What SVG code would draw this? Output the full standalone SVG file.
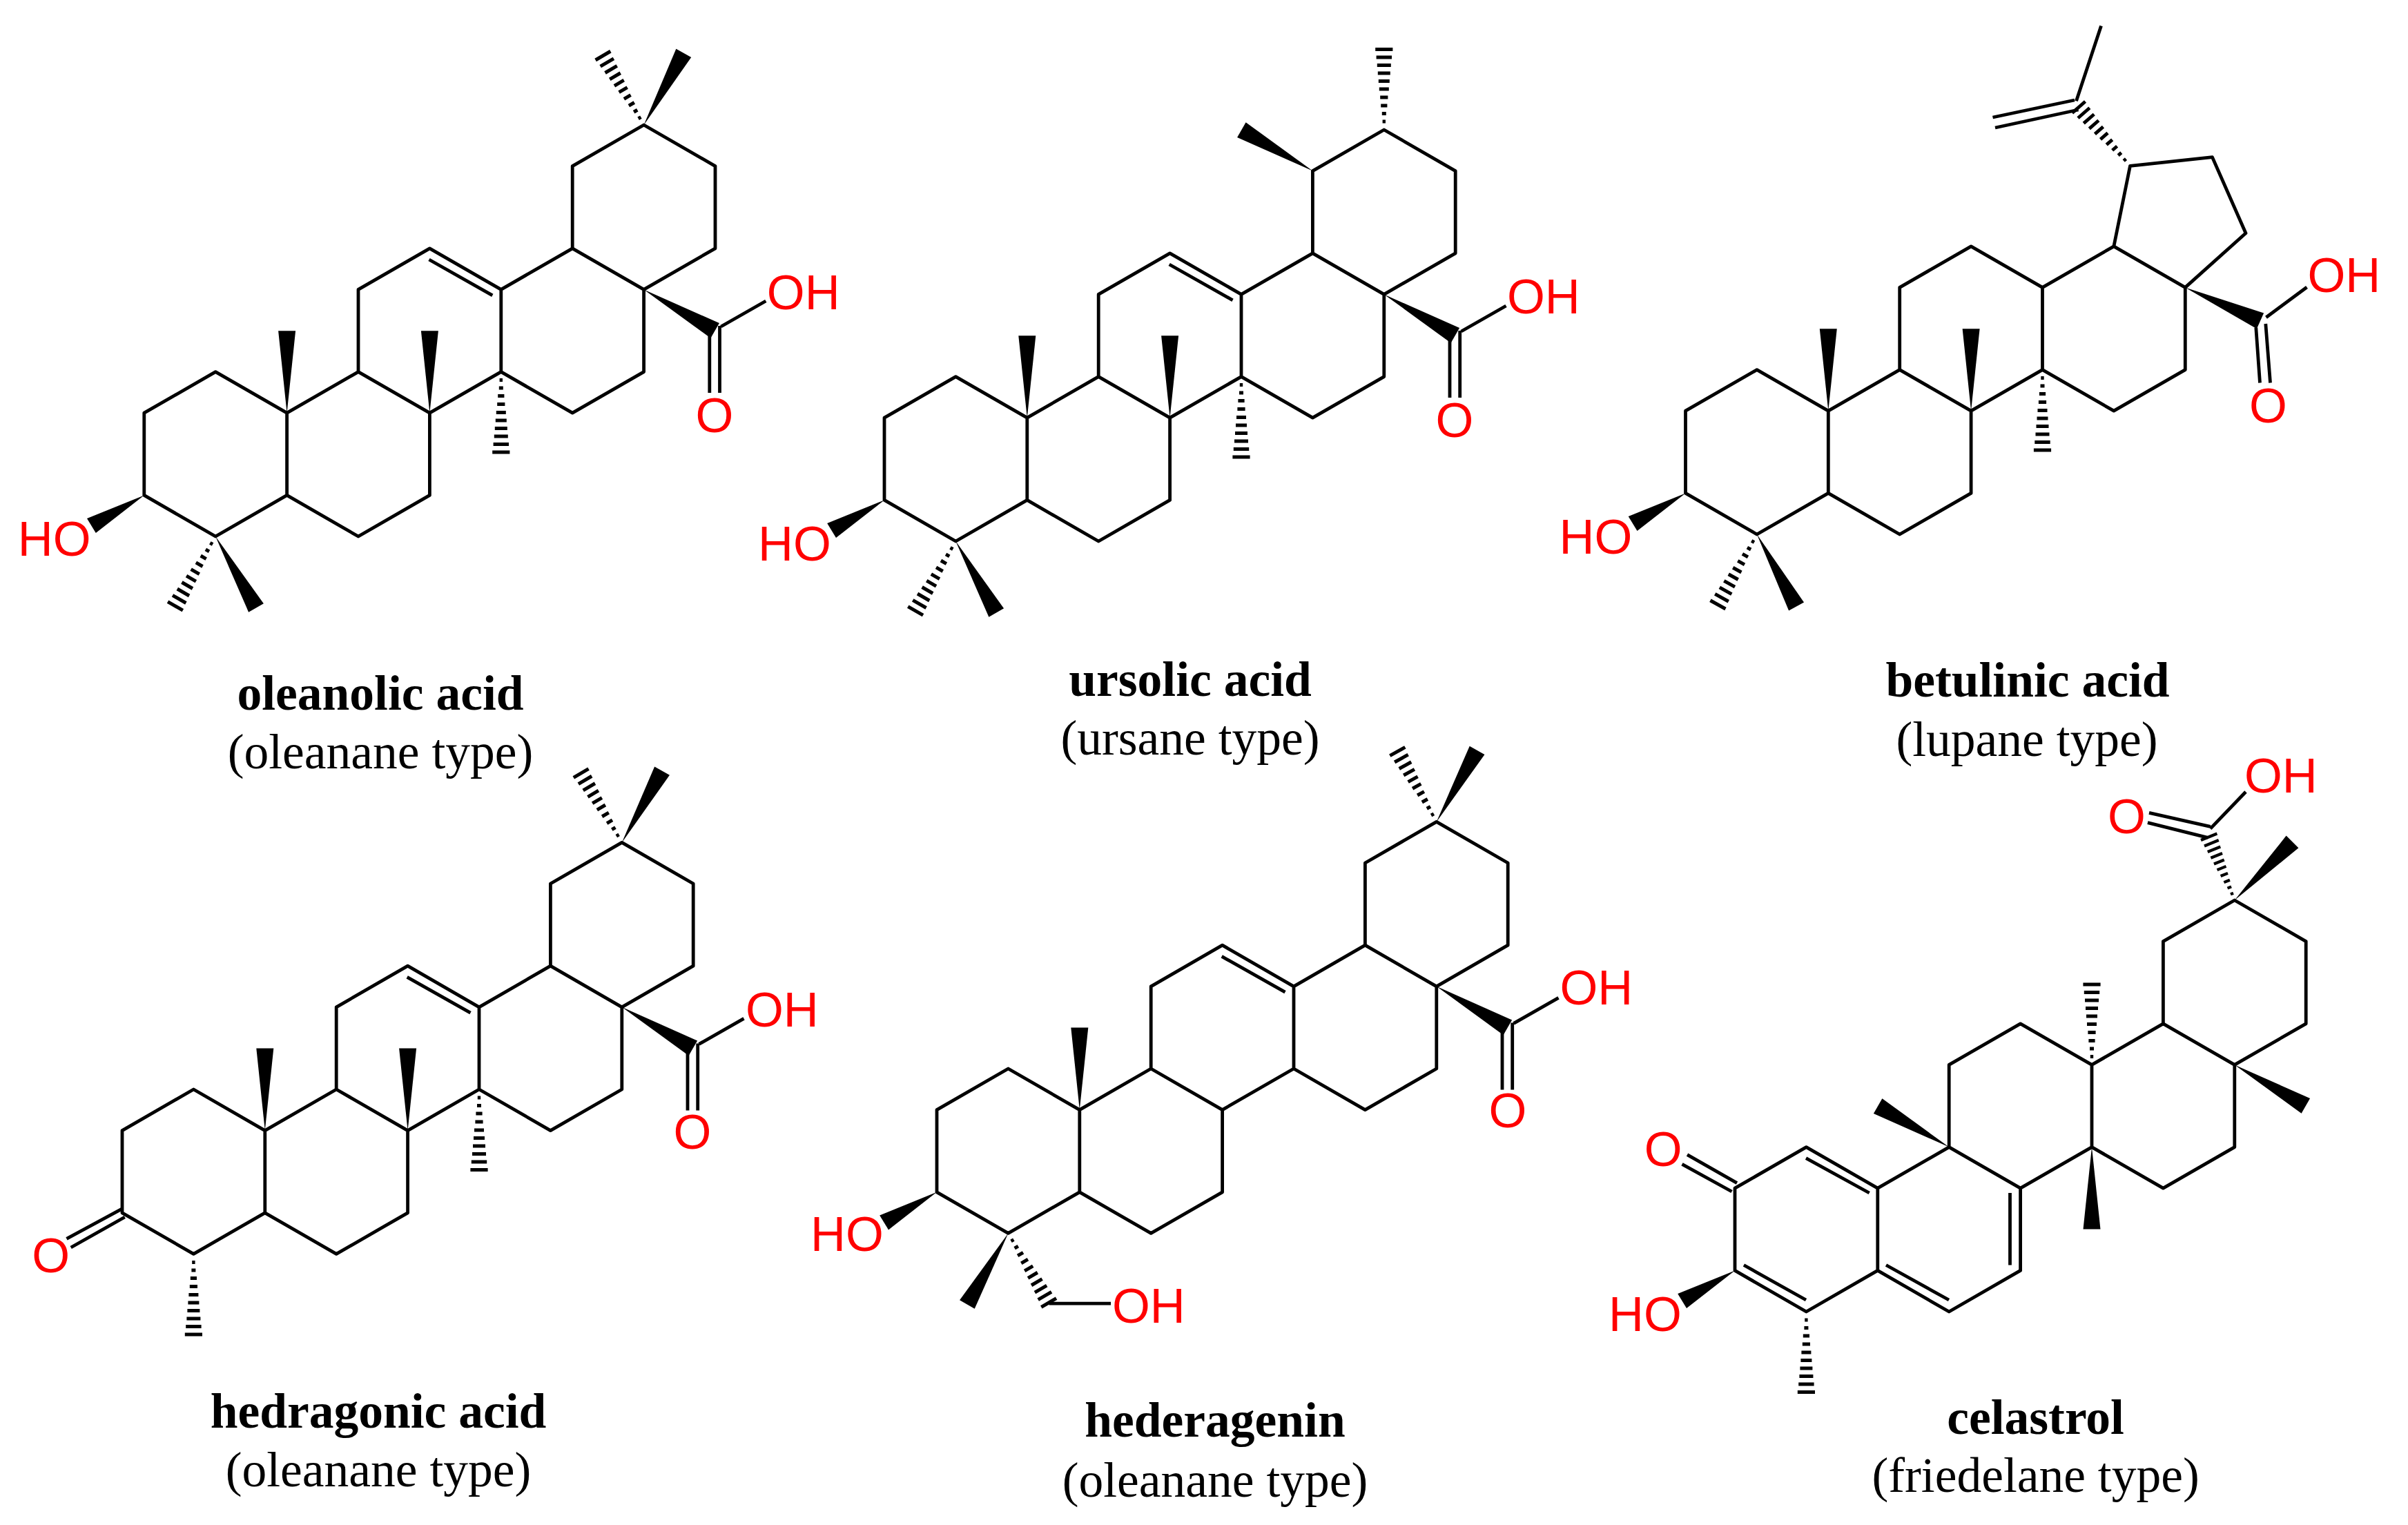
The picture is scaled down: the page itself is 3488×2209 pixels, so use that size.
<svg xmlns="http://www.w3.org/2000/svg" width="3488" height="2209" viewBox="0 0 3488 2209">
<style>
.bond{fill:none;stroke:#000;stroke-width:4.8;stroke-linejoin:round;stroke-linecap:butt}
.rung{fill:none;stroke:#000;stroke-width:5}
.atom{font-family:"Liberation Sans",Arial,sans-serif;font-size:70.5px;fill:#f00}
.mid{text-anchor:middle}
.name{font-family:"Liberation Serif","Times New Roman",serif;font-size:71.5px;font-weight:bold;fill:#000;text-anchor:middle}
.type{font-family:"Liberation Serif","Times New Roman",serif;font-size:71.5px;fill:#000;text-anchor:middle}
</style>
<defs>
<path id="core" class="bond" d="M0,536.4V417.2L103.4,357.6L206.8,417.2V536.4L103.4,596ZM206.8,417.2L310.2,357.6L413.6,417.2V536.4L310.2,596L206.8,536.4M310.2,357.6V238.4L413.6,178.8L517,238.4V357.6L413.6,417.2M517,238.4L620.4,178.8L723.8,238.4V357.6L620.4,417.2L517,357.6"/>
<path id="ringE" class="bond" d="M620.4,178.8V59.6L723.8,0L827.2,59.6V178.8L723.8,238.4"/>
<path id="db12" class="bond" d="M412.7,195L504.5,246.8"/>
<polygon id="wedge" points="0,0 119,-12.5 119,12.5" fill="#000"/>
<path id="hash" class="rung" d="M12,-2.2V2.2M23.5,-3V3M35,-4.6V4.6M47,-5.6V5.6M59,-7V7M70.5,-8V8M82,-9V9M93.5,-10V10M105,-11.2V11.2M116.5,-12.6V12.6"/>
<polygon id="wedgeHO" points="0,536.4 -82.8,570 -70,591" fill="#000"/>
<g id="cooh">
<use href="#wedge" transform="translate(723.8,238.4) rotate(30)"/>
<path class="bond" d="M835.6,292L900.5,255M819,300V388M833.7,291V388"/>
</g>
<g id="c10c8c14">
<use href="#wedge" transform="translate(206.8,417.2) rotate(-90)"/>
<use href="#wedge" transform="translate(413.6,417.2) rotate(-90)"/>
<use href="#hash" transform="translate(517,357.6) rotate(90)"/>
</g>
</defs>
<rect width="3488" height="2209" fill="#fff"/>

<g id="oleanolic-acid" transform="translate(208.8,181)">
<use href="#core"/><use href="#ringE"/><use href="#db12"/><use href="#cooh"/><use href="#c10c8c14"/>
<use href="#hash" transform="translate(723.8,0) rotate(-120.5)"/>
<use href="#wedge" transform="translate(723.8,0) rotate(-61)"/>
<use href="#hash" transform="translate(103.4,596) rotate(120)"/>
<use href="#wedge" transform="translate(103.4,596) rotate(60.4)"/>
<use href="#wedgeHO"/>
<text class="atom" x="-183" y="623.5">HO</text>
<text class="atom" x="902" y="267">OH</text>
<text class="atom mid" x="826" y="445">O</text>
</g>
<text class="name" x="551" y="1027.5">oleanolic acid</text>
<text class="type" x="551" y="1113">(oleanane type)</text>

<g id="ursolic-acid" transform="translate(1281,188)">
<use href="#core"/><use href="#ringE"/><use href="#db12"/><use href="#cooh"/><use href="#c10c8c14"/>
<use href="#hash" transform="translate(723.8,0) rotate(-90)"/>
<use href="#wedge" transform="translate(620.4,59.6) rotate(-150)"/>
<use href="#hash" transform="translate(103.4,596) rotate(120)"/>
<use href="#wedge" transform="translate(103.4,596) rotate(60.4)"/>
<use href="#wedgeHO"/>
<text class="atom" x="-183" y="623.5">HO</text>
<text class="atom" x="902" y="266">OH</text>
<text class="atom mid" x="826" y="445">O</text>
</g>
<text class="name" x="1724" y="1007.5">ursolic acid</text>
<text class="type" x="1724" y="1093">(ursane type)</text>

<g id="betulinic-acid" transform="translate(2441.5,178)">
<use href="#core"/><use href="#c10c8c14"/>
<path class="bond" d="M620.4,178.8L644,62.3L763,49.6L811.5,159.8L723.8,238.4"/>
<use href="#hash" transform="translate(644,62.3) rotate(-131.2) scale(.97,1)"/>
<path class="bond" d="M566,-31.7L602,-140.5M563.5,-33L445,-8M569,-19L448.5,7"/>
<use href="#wedge" transform="translate(723.8,238.4) rotate(24)"/>
<path class="bond" d="M841,281.8L900,238M826.3,296.6L832,376.5M840.3,291L847,376.5"/>
<use href="#hash" transform="translate(103.4,596) rotate(119)"/>
<use href="#wedge" transform="translate(103.4,596) rotate(61.3)"/>
<use href="#wedgeHO"/>
<text class="atom" x="-183" y="624">HO</text>
<text class="atom" x="901" y="245">OH</text>
<text class="atom mid" x="844" y="433.5">O</text>
</g>
<text class="name" x="2937" y="1008.5">betulinic acid</text>
<text class="type" x="2936" y="1095">(lupane type)</text>

<g id="hedragonic-acid" transform="translate(177,1220.4)">
<use href="#core"/><use href="#ringE"/><use href="#db12"/><use href="#cooh"/><use href="#c10c8c14"/>
<use href="#hash" transform="translate(723.8,0) rotate(-120.5)"/>
<use href="#wedge" transform="translate(723.8,0) rotate(-60.7)"/>
<use href="#hash" transform="translate(103.4,596) rotate(90)"/>
<path class="bond" d="M0,530.4L-80.5,574M3.7,542.6L-74.3,586.6"/>
<text class="atom mid" x="-103.4" y="622.6">O</text>
<text class="atom" x="903" y="267">OH</text>
<text class="atom mid" x="826" y="444">O</text>
</g>
<text class="name" x="548" y="2067.5">hedragonic acid</text>
<text class="type" x="548" y="2153">(oleanane type)</text>

<g id="hederagenin" transform="translate(1357,1190.4)">
<use href="#core"/><use href="#ringE"/><use href="#db12"/><use href="#cooh"/>
<use href="#wedge" transform="translate(206.8,417.2) rotate(-90)"/>
<use href="#hash" transform="translate(723.8,0) rotate(-119)"/>
<use href="#wedge" transform="translate(723.8,0) rotate(-60.4)"/>
<use href="#wedge" transform="translate(103.4,596) rotate(120)"/>
<use href="#hash" transform="translate(103.4,596) rotate(59.7)"/>
<path class="bond" d="M162.6,697.7H252"/>
<use href="#wedgeHO"/>
<text class="atom" x="-183" y="622">HO</text>
<text class="atom" x="254" y="725.6">OH</text>
<text class="atom" x="902.4" y="265">OH</text>
<text class="atom mid" x="827" y="443">O</text>
</g>
<text class="name" x="1760" y="2080.5">hederagenin</text>
<text class="type" x="1760" y="2168">(oleanane type)</text>

<g id="celastrol" transform="translate(2513,1304)">
<use href="#core"/><use href="#ringE"/>
<path class="bond" d="M103,373.7L194.7,424M12.9,528.5L103,579M219,528.5L310,579M398.5,424V528.5"/>
<path class="bond" d="M-69,368.6L3,409.7M-76.5,382.3L-4.5,422"/>
<use href="#wedge" transform="translate(310.2,357.6) rotate(-150)"/>
<use href="#wedge" transform="translate(517,357.6) rotate(90)"/>
<use href="#hash" transform="translate(517,238.4) rotate(-90)"/>
<use href="#wedge" transform="translate(723.8,238.4) rotate(30)"/>
<use href="#wedge" transform="translate(723.8,0) rotate(-45.3)"/>
<use href="#hash" transform="translate(723.8,0) rotate(-112) scale(.85,1)"/>
<path class="bond" d="M688.7,-106.6L600,-126.7M685,-90.7L597.9,-112.3M688.7,-103.7L740,-157"/>
<use href="#hash" transform="translate(103.4,596) rotate(90)"/>
<use href="#wedgeHO"/>
<text class="atom" x="-183" y="624">HO</text>
<text class="atom mid" x="-103.8" y="385">O</text>
<text class="atom mid" x="567.5" y="-97">O</text>
<text class="atom" x="738" y="-156">OH</text>
</g>
<text class="name" x="2948.6" y="2076.5">celastrol</text>
<text class="type" x="2948.6" y="2161">(friedelane type)</text>
</svg>
